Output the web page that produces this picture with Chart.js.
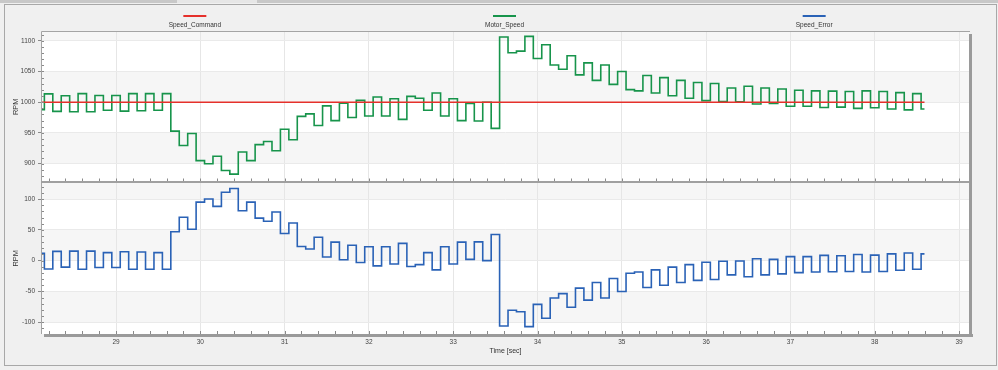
<!DOCTYPE html>
<html><head><meta charset="utf-8">
<script src="https://cdn.jsdelivr.net/npm/chart.js@4.4.1/dist/chart.umd.min.js"></script>
<style>html,body{margin:0;padding:0;background:#f0f0f0;overflow:hidden}#wrap{width:998px;height:370px}</style>
</head><body><div id="wrap"><canvas id="c" width="998" height="370"></canvas></div>
<script>
const seriesNames = ['Speed_Command', 'Motor_Speed', 'Speed_Error'];
const xTitle = 'Time [sec]';
const yTitle = 'RPM';
const xTickValues = [29, 30, 31, 32, 33, 34, 35, 36, 37, 38, 39];
const yTopTicks = [900, 950, 1000, 1050, 1100];
const yBotTicks = [-100, -50, 0, 50, 100];

const times = [28.05,
  28.15, 28.25, 28.35, 28.45, 28.55, 28.65, 28.75, 28.85, 28.95, 29.05,
  29.15, 29.25, 29.35, 29.45, 29.55, 29.65, 29.75, 29.85, 29.95, 30.05,
  30.15, 30.25, 30.35, 30.45, 30.55, 30.65, 30.75, 30.85, 30.95, 31.05,
  31.15, 31.25, 31.35, 31.45, 31.55, 31.65, 31.75, 31.85, 31.95, 32.05,
  32.15, 32.25, 32.35, 32.45, 32.55, 32.65, 32.75, 32.85, 32.95, 33.05,
  33.15, 33.25, 33.35, 33.45, 33.55, 33.65, 33.75, 33.85, 33.95, 34.05,
  34.15, 34.25, 34.35, 34.45, 34.55, 34.65, 34.75, 34.85, 34.95, 35.05,
  35.15, 35.25, 35.35, 35.45, 35.55, 35.65, 35.75, 35.85, 35.95, 36.05,
  36.15, 36.25, 36.35, 36.45, 36.55, 36.65, 36.75, 36.85, 36.95, 37.05,
  37.15, 37.25, 37.35, 37.45, 37.55, 37.65, 37.75, 37.85, 37.95, 38.05,
  38.15, 38.25, 38.35, 38.45, 38.55,
  38.59];

const motorSpeed = [988,
  1013.5, 985, 1010.5, 984.5, 1014, 984.5, 1011, 987, 1011, 985.5,
  1014, 986, 1014, 987, 1014, 953, 929.5, 949, 905, 900,
  912, 889, 883, 919, 905, 931, 936, 921, 956, 939,
  977, 981, 962, 994, 970, 998.5, 975, 1003, 977.5, 1008.5,
  977.5, 1005.5, 972, 1009.5, 1006.5, 987, 1015, 977.5, 1005.5, 970,
  998, 969.5, 1000, 957.5, 1106, 1080.5, 1083, 1107, 1071, 1093.5,
  1060.5, 1053.5, 1075.5, 1044.5, 1064, 1035.5, 1060.5, 1029, 1050, 1020.5,
  1018.5, 1043.5, 1015, 1040, 1010.5, 1035.5, 1006.5, 1032, 1002.5, 1030.5,
  1001, 1023, 1000.5, 1026, 997, 1023, 998, 1021.5, 993.5, 1019.5,
  993.5, 1018.5, 991.5, 1018, 992, 1017.5, 990, 1018.5, 991, 1017.5,
  989, 1015.5, 987.5, 1014, 989,
  989];

const speedError = [12,
  -13.5, 15, -10.5, 15.5, -14, 15.5, -11, 13, -11, 14.5,
  -14, 14, -14, 13, -14, 47, 70.5, 51, 95, 100,
  88, 111, 117, 81, 95, 69, 64, 79, 44, 61,
  23, 19, 38, 6, 30, 1.5, 25, -3, 22.5, -8.5,
  22.5, -5.5, 28, -9.5, -6.5, 13, -15, 22.5, -5.5, 30,
  2, 30.5, 0, 42.5, -106, -80.5, -83, -107, -71, -93.5,
  -60.5, -53.5, -75.5, -44.5, -64, -35.5, -60.5, -29, -50, -20.5,
  -18.5, -43.5, -15, -40, -10.5, -35.5, -6.5, -32, -2.5, -30.5,
  -1, -23, -0.5, -26, 3, -23, 2, -21.5, 6.5, -19.5,
  6.5, -18.5, 8.5, -18, 8, -17.5, 10, -18.5, 9, -17.5,
  11, -15.5, 12.5, -14, 11,
  11];

const commandTimes = [28.05, 38.59];
const speedCommand = [1000, 1000];

const FONT = "'Liberation Sans', Arial, sans-serif";
Chart.defaults.font.family = FONT;

const framePlugin = {
  id: 'frame',
  beforeDraw(chart) {
    const { ctx, chartArea: a } = chart;
    ctx.save();
    ctx.fillStyle = '#f0f0f0';
    ctx.fillRect(0, 0, chart.width, chart.height);
    ctx.fillStyle = '#c8c8c8';
    ctx.fillRect(0, 0, chart.width, 3);
    ctx.fillStyle = '#e6e6e6';
    ctx.fillRect(177, 0, 80, 3);
    ctx.strokeStyle = '#a8a8a8';
    ctx.lineWidth = 1;
    ctx.strokeRect(4.5, 4.5, 992, 361);
    ctx.fillStyle = '#ffffff';
    ctx.fillRect(a.left, a.top, a.right - a.left, a.bottom - a.top);
    ['yTop', 'yBot'].forEach(id => {
      const s = chart.scales[id];
      ctx.fillStyle = '#f6f6f6';
      for (let v = Math.floor(s.min / 50) * 50; v < s.max; v += 50) {
        const idx = Math.round(v / 50);
        if (((idx % 2) + 2) % 2 === 0) {
          const y1 = Math.max(s.getPixelForValue(v + 50), s.top);
          const y2 = Math.min(s.getPixelForValue(v), s.bottom);
          if (y2 > y1) ctx.fillRect(a.left, y1, a.right - a.left, y2 - y1);
        }
      }
    });
    ctx.restore();
  },
  afterDraw(chart) {
    const { ctx, chartArea: a, scales } = chart;
    const sx = scales.x, st = scales.yTop, sb = scales.yBot;
    ctx.save();
    // inward minor ticks
    ctx.strokeStyle = '#8a8a8a';
    ctx.lineWidth = 1;
    ctx.beginPath();
    for (let i = Math.ceil(sx.min * 5); i <= Math.floor(sx.max * 5); i++) {
      const px = Math.round(sx.getPixelForValue(i / 5)) + 0.5;
      [st.bottom - 1, sb.bottom].forEach(yb => { ctx.moveTo(px, yb); ctx.lineTo(px, yb - 3); });
    }
    [st, sb].forEach(s => {
      for (let v = Math.ceil(s.min / 10) * 10; v <= s.max; v += 10) {
        const py = Math.round(s.getPixelForValue(v)) + 0.5;
        ctx.moveTo(a.left, py); ctx.lineTo(a.left + 3, py);
      }
    });
    ctx.stroke();
    // borders
    ctx.strokeStyle = '#a4a4a4';
    ctx.beginPath();
    ctx.moveTo(a.left + 0.5, a.bottom); ctx.lineTo(a.left + 0.5, a.top + 0.5); ctx.lineTo(a.right, a.top + 0.5);
    ctx.stroke();
    ctx.fillStyle = '#a0a0a0';
    ctx.fillRect(a.left, st.bottom - 1.5, a.right - a.left, 2);
    ctx.fillStyle = '#9a9a9a';
    ctx.fillRect(a.right - 1, a.top + 3, 3, a.bottom - a.top);
    ctx.fillRect(a.left + 3, a.bottom, a.right - a.left, 3);
    // legend
    const colW = (a.right - a.left) / 3;
    chart.data.datasets.forEach((d, i) => {
      const cx = a.left + colW * (i + 0.5) - 1;
      ctx.strokeStyle = d.borderColor;
      ctx.lineWidth = 2;
      ctx.beginPath();
      ctx.moveTo(cx - 11.5, 16); ctx.lineTo(cx + 11.5, 16);
      ctx.stroke();
      ctx.fillStyle = '#333';
      ctx.font = '6.5px ' + FONT;
      ctx.textAlign = 'center';
      ctx.textBaseline = 'alphabetic';
      ctx.fillText(d.label, cx, 26.5);
    });
    ctx.restore();
  }
};

const toPts = (xs, ys) => xs.map((t, i) => ({ x: t, y: ys[i] }));
const lineDs = (label, xs, ys, axis, color) => ({
  label, data: toPts(xs, ys), yAxisID: axis, borderColor: color, backgroundColor: color,
  borderWidth: 1.6, pointRadius: 0, stepped: true, fill: false
});

const yScale = (tickVals, min, max) => ({
  type: 'linear', position: 'left', stack: 'panels', stackWeight: 1, min, max,
  afterBuildTicks: s => { s.ticks = tickVals.map(v => ({ value: v })); },
  afterFit: s => { s.width = 41; },
  grid: { color: '#eaeaea', tickColor: '#8a8a8a', tickLength: 3, drawTicks: true },
  border: { display: false },
  ticks: { padding: 3, color: '#444', font: { size: 6.5 }, callback: v => String(v) },
  title: { display: true, text: yTitle, color: '#333', font: { size: 7.5 }, padding: { top: 11, bottom: 0 } }
});

new Chart(document.getElementById('c'), {
  type: 'line',
  data: {
    datasets: [
      lineDs(seriesNames[0], commandTimes, speedCommand, 'yTop', '#e5302b'),
      lineDs(seriesNames[1], times, motorSpeed, 'yTop', '#17944b'),
      lineDs(seriesNames[2], times, speedError, 'yBot', '#2a62b6')
    ]
  },
  options: {
    responsive: false, animation: false, devicePixelRatio: 1,
    layout: { padding: { top: 31, right: 28, bottom: 0, left: 0 } },
    plugins: { legend: { display: false }, tooltip: { enabled: false } },
    scales: {
      x: {
        type: 'linear', position: 'bottom', min: 28.11, max: 39.13,
        afterBuildTicks: s => { s.ticks = xTickValues.map(v => ({ value: v })); },
        afterFit: s => { s.height = 36; },
        grid: { color: '#e6e6e6', drawTicks: false },
        border: { display: false },
        ticks: { padding: 4, color: '#444', font: { size: 6.5 }, maxRotation: 0, autoSkip: false, callback: v => String(v) },
        title: { display: true, text: xTitle, color: '#333', font: { size: 7 }, padding: { top: 0, bottom: 15 } }
      },
      yBot: yScale(yBotTicks, -119, 126.8),
      yTop: yScale(yTopTicks, 869.4, 1115.8)
    }
  },
  plugins: [framePlugin]
});
</script>
</body></html>
